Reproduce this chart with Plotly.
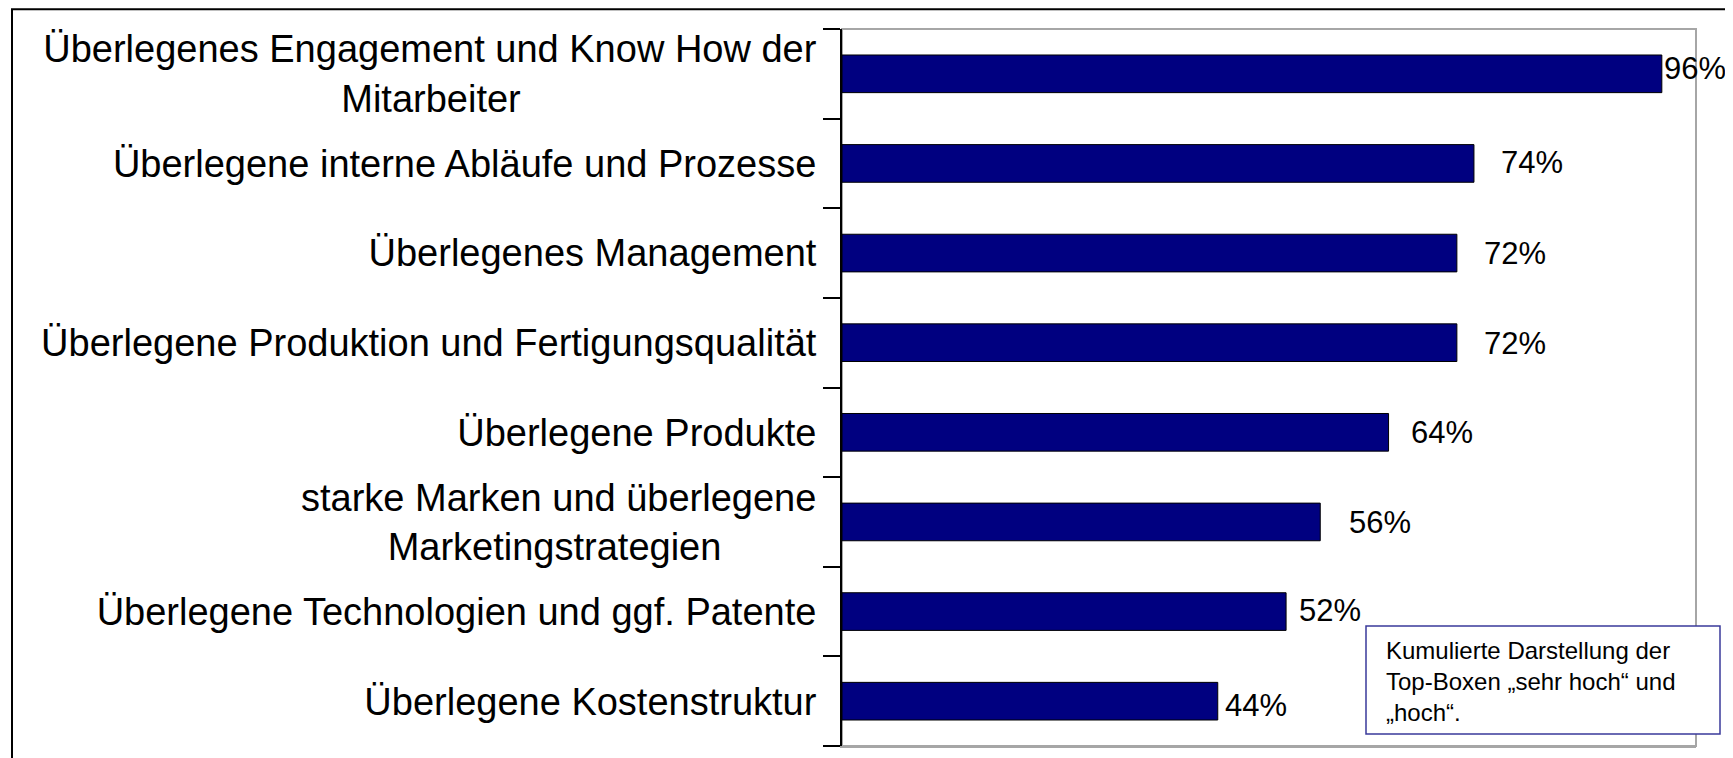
import plotly.graph_objects as go

categories = [
    "Überlegenes Engagement und Know How der<br>Mitarbeiter",
    "Überlegene interne Abläufe und Prozesse",
    "Überlegenes Management",
    "Überlegene Produktion und Fertigungsqualität",
    "Überlegene Produkte",
    "starke Marken und überlegene<br>Marketingstrategien",
    "Überlegene Technologien und ggf. Patente",
    "Überlegene Kostenstruktur",
]
values = [96, 74, 72, 72, 64, 56, 52, 44]
value_labels = ["96%", "74%", "72%", "72%", "64%", "56%", "52%", "44%"]
note_text = "Kumulierte Darstellung der<br>Top-Boxen „sehr hoch“ und<br>„hoch“."

# style: label offsets and second-line centring pads
label_xshift = [0, 25, 25, 25, 20, 27, 11, 5]
label_yshift = [5, 1, 0, -1, 0, -1, 1, -4]
second_line_pad = [28, 0, 0, 0, 0, 9, 0, 0]

# the page body has an 8px margin; work in window pixels and subtract it
OFF = 8
W, H = 1733 - OFF, 758 - OFF
PL, PR, PT, PB = 842, 1696, 29, 746          # plot area in window pixels
L, R, T, B = PL - OFF, W - (PR - OFF), PT - OFF, H - (PB - OFF)
pw, ph = W - L - R, H - T - B

def px_x(x):
    return (x - OFF - L) / pw

def px_y(y):
    return (H - B - (y - OFF)) / ph

FONT = "Liberation Sans, Arial, sans-serif"

ticktext = []
for c, pad in zip(categories, second_line_pad):
    if pad:
        a, b = c.split("<br>")
        c = a + "<br>" + b + "\u00a0" * pad
    ticktext.append(c)

fig = go.Figure()
fig.add_trace(go.Bar(
    x=values, y=categories, orientation="h",
    marker=dict(color="#000080", line=dict(color="#000000", width=1)),
    hoverinfo="skip",
))

for v, c, t, dx, dy in zip(values, categories, value_labels, label_xshift, label_yshift):
    fig.add_annotation(x=v, y=c, xref="x", yref="y", text=t, showarrow=False,
                       xanchor="left", yanchor="middle", xshift=dx, yshift=dy,
                       font=dict(family=FONT, size=31, color="#000000"))

# plot area border (gray)
fig.add_shape(type="rect", xref="paper", yref="paper", x0=0, x1=1, y0=0, y1=1,
              line=dict(color="#a6a6a6", width=2), layer="below")

# outer frame (cropped at right/bottom)
fig.add_shape(type="rect", xref="paper", yref="paper",
              x0=px_x(12), x1=px_x(1745), y0=px_y(770), y1=px_y(9.2),
              line=dict(color="#000000", width=2))

# note box
fig.add_shape(type="rect", xref="paper", yref="paper",
              x0=px_x(1366), x1=px_x(1720), y0=px_y(734), y1=px_y(626),
              line=dict(color="#3a3a9a", width=1.5), fillcolor="#ffffff")
fig.add_annotation(xref="paper", yref="paper", x=px_x(1384), y=px_y(681),
                   xanchor="left", yanchor="middle", align="left", showarrow=False,
                   text=note_text, font=dict(family=FONT, size=24, color="#000000"))

fig.update_layout(
    width=W, height=H,
    margin=dict(l=L, r=R, t=T, b=B, pad=0, autoexpand=False),
    paper_bgcolor="#ffffff", plot_bgcolor="#ffffff",
    bargap=0.58, showlegend=False,
    font=dict(family=FONT, color="#000000"),
)
fig.update_xaxes(range=[0, 100], showgrid=False, zeroline=False, showticklabels=False,
                 ticks="", showline=True, linecolor="#a6a6a6", linewidth=2,
                 fixedrange=True, automargin=False)
fig.update_yaxes(autorange="reversed", showgrid=False, zeroline=False,
                 showline=True, linecolor="#000000", linewidth=2,
                 ticks="outside", tickson="boundaries", ticklen=17, tickwidth=2,
                 tickcolor="#000000", ticklabelstandoff=16,
                 tickmode="array", tickvals=categories, ticktext=ticktext,
                 tickfont=dict(family=FONT, size=38, color="#000000"),
                 fixedrange=True, automargin=False)

fig.write_html("out.html")
